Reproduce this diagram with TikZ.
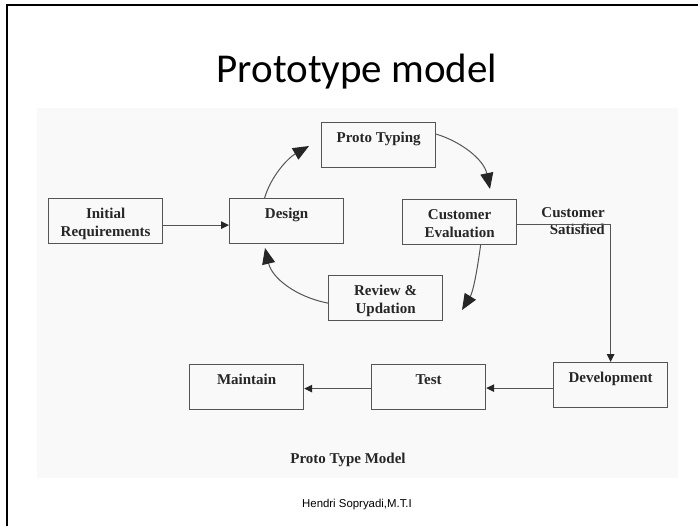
\documentclass[tikz,border=0pt]{standalone}
\usepackage{fontspec}
\setmainfont{Liberation Serif}
\newfontfamily\titlefont{Carlito}
\newfontfamily\footfont{Liberation Sans}
\usetikzlibrary{arrows.meta}
\definecolor{boxline}{HTML}{555555}
\definecolor{txt}{HTML}{262626}
\definecolor{bgpic}{HTML}{F9F9F9}
\newcommand{\bxtext}[1]{\parbox[c][45pt][t]{114pt}{\centering\fontsize{15}{18}\selectfont\bfseries\rule{0pt}{20pt}#1}}
\tikzset{
  box/.style={draw=boxline, line width=1.2pt, inner sep=0pt, anchor=north west, text=txt},
  conn/.style={draw=boxline, line width=1.1pt, -{Triangle[length=8pt,width=7.5pt,color=txt]}},
  curv/.style={draw=boxline, line width=1pt, -{Triangle[length=16pt,width=13pt,color=txt]}},
}
\begin{document}
\begin{tikzpicture}[x=1pt,y=-1pt]
\useasboundingbox (0,0) rectangle (698,526);
\fill[white] (0,0) rectangle (698,526);
\draw[line width=2.2pt, black] (7,530) -- (7,5) -- (702,5);
\fill[bgpic] (37,108) rectangle (678,478);
\node[anchor=base, font=\titlefont\fontsize{41}{45}\selectfont, text=black] (title) at (357,83) {Prototype model};

\node[box] (ir) at (48,198) {\bxtext{Initial\\Requirements}};
\node[box] (design) at (229,198) {\bxtext{Design}};
\node[box] (proto) at (321,122) {\bxtext{Proto Typing}};
\node[box] (ce) at (402,199) {\bxtext{Customer\\Evaluation}};
\node[box] (review) at (328,275) {\bxtext{Review \&\\Updation}};
\node[box] (dev) at (553,362) {\bxtext{Development}};
\node[box] (test) at (371,364) {\bxtext{Test}};
\node[box] (maint) at (189,364) {\bxtext{Maintain}};

\node[anchor=north east, align=right, inner sep=0pt, text=txt, font=\fontsize{15}{17}\selectfont\bfseries] (sat) at (605,207) {Customer\\Satisfied};

\coordinate (t1) at (309,146);
\coordinate (t2) at (490,189);
\coordinate (t3) at (462,310);
\coordinate (t4) at (265,248);

\draw[conn] ([yshift=-4pt]ir.east) -- ([yshift=-4pt]ir.east -| design.west);
\draw[conn] ([yshift=-2pt]ce.east) -| (dev.north);
\draw[conn] ([yshift=-3pt]dev.west) -- ([yshift=-3pt]dev.west -| test.east);
\draw[conn] ([yshift=-1.5pt]test.west) -- ([yshift=-1.5pt]test.west -| maint.east);

\draw[curv] ([xshift=-22pt]design.north) .. controls (271,176) and (288,158) .. (t1);
\draw[curv] ([yshift=11pt]proto.east) .. controls (462,142) and (484,160) .. (t2);
\draw[curv] ([xshift=21pt]ce.south) .. controls (477,272) and (473,292) .. (t3);
\draw[curv] ([yshift=-5pt]review.west) .. controls (296,297) and (272,278) .. (t4);

\node[text=txt, font=\fontsize{15}{18}\selectfont\bfseries] (cap) at (348,460) {Proto Type Model};
\node[text=black, font=\footfont\fontsize{11.4}{13}\selectfont] (foot) at (357,505) {Hendri Sopryadi,M.T.I};
\end{tikzpicture}
\end{document}
